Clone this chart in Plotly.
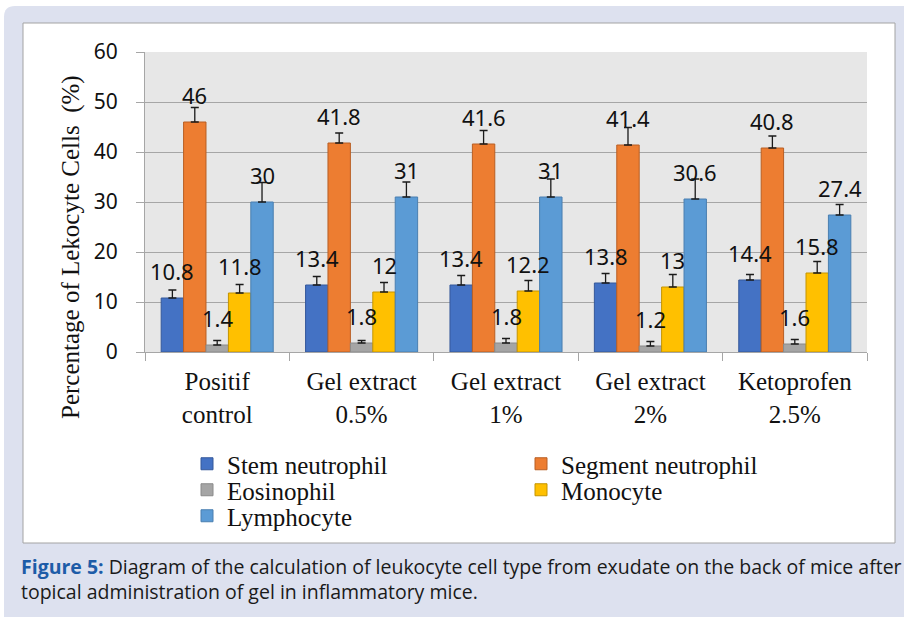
import plotly.graph_objects as go

# ---------------- data ----------------
categories = ["Positif<br>control", "Gel extract<br>0.5%", "Gel extract<br>1%",
              "Gel extract<br>2%", "Ketoprofen<br>2.5%"]
series_names = ["Stem neutrophil", "Segment neutrophil", "Eosinophil", "Monocyte", "Lymphocyte"]

stem_neutrophil = [10.8, 13.4, 13.4, 13.8, 14.4]
segment_neutrophil = [46, 41.8, 41.6, 41.4, 40.8]
eosinophil = [1.4, 1.8, 1.8, 1.2, 1.6]
monocyte = [11.8, 12, 12.2, 13, 15.8]
lymphocyte = [30, 31, 31, 30.6, 27.4]

stem_err = [1.6, 1.7, 1.9, 1.9, 1.1]
segment_err = [2.9, 2.0, 2.7, 3.5, 2.4]
eosinophil_err = [0.9, 0.5, 0.9, 0.9, 0.9]
monocyte_err = [1.7, 1.9, 2.1, 2.5, 2.3]
lymphocyte_err = [3.9, 3.0, 3.6, 4.0, 2.1]

y_ticks = [0, 10, 20, 30, 40, 50, 60]

# ---------------- style ----------------
W, H = 904, 617
ML, MR, MT, MB = 145, 37, 52, 265
PW, PH = W - ML - MR, H - MT - MB
BARGAP = 0.224

colors = ["#4472C4", "#ED7D31", "#A5A5A5", "#FFC000", "#5B9BD5"]
edges = ["#35589a", "#b85f24", "#8a8a8a", "#c49400", "#4a7fb0"]
legend_ids = ["legend", "legend", "legend2", "legend2", "legend3"]
grid = "#a6a6a6"
SERIF = "Liberation Serif, Times New Roman, serif"
SANS = "Noto Sans, Open Sans, sans-serif"

values = [stem_neutrophil, segment_neutrophil, eosinophil, monocyte, lymphocyte]
errors = [stem_err, segment_err, eosinophil_err, monocyte_err, lymphocyte_err]


def px_x(px):
    return (px - ML) / PW


def px_y(py):
    return (H - MB - py) / PH


fig = go.Figure()
for name, vals, errs, c, e, lg in zip(series_names, values, errors, colors, edges, legend_ids):
    fig.add_trace(go.Bar(
        name=name, x=categories, y=vals, legend=lg,
        marker=dict(color=c, line=dict(color=e, width=1)),
        error_y=dict(type="data", array=errs, arrayminus=[0] * len(errs), symmetric=False,
                     color="#1a1a1a", thickness=1.3, width=4),
    ))

# data labels, placed above each bar
bar_w = PW / len(categories) * (1 - BARGAP) / len(series_names)
annotations = []
for i, vals in enumerate(values):
    for cat, v in zip(categories, vals):
        annotations.append(dict(
            x=cat, y=v, xref="x", yref="y", text=f"{v:g}", showarrow=False,
            xshift=(i - (len(series_names) - 1) / 2) * bar_w, yshift=27,
            font=dict(family=SANS, size=22, color="#111111"),
        ))

# y-axis title
annotations.append(dict(
    x=px_x(55), y=px_y(247), xref="paper", yref="paper", showarrow=False,
    text="Percentage of Lekocyte Cells  (%)", textangle=-90,
    font=dict(family=SERIF, size=25, color="#111111"),
))

# caption
annotations.append(dict(
    x=px_x(19), y=px_y(551), xref="paper", yref="paper", showarrow=False,
    xanchor="left", yanchor="top", align="left",
    text="<b><span style='color:#1d5ca8'>Figure 5:</span></b> Diagram of the calculation of leukocyte cell type "
         "from exudate on the back of mice after<br>topical administration of gel in inflammatory mice.",
    font=dict(family="Open Sans, Noto Sans, sans-serif", size=19.5, color="#1a1a1a"),
))

# background panels
x0, x1 = px_x(4), px_x(910)
y0, y1 = px_y(6), px_y(625)
rx, ry = 11 / PW, 11 / PH
lav_path = (f"M {x0},{y1} L {x0},{y0 - ry} Q {x0},{y0} {x0 + rx},{y0} "
            f"L {x1},{y0} L {x1},{y1} Z")
shapes = [
    dict(type="path", xref="paper", yref="paper", path=lav_path,
         fillcolor="#dde1ef", line=dict(width=0), layer="below"),
    dict(type="rect", xref="paper", yref="paper",
         x0=px_x(23), x1=px_x(895), y0=px_y(543), y1=px_y(23),
         fillcolor="white", line=dict(color="#a3a3a3", width=1), layer="below"),
    dict(type="rect", xref="paper", yref="paper", x0=0, x1=1, y0=0, y1=1,
         fillcolor="#e7e7e7", line=dict(width=0), layer="below"),
]

legend_common = dict(
    orientation="h", xanchor="left", yanchor="top", entrywidth=289,
    traceorder="normal", font=dict(family=SERIF, size=25, color="#111111"),
    bgcolor="rgba(0,0,0,0)", itemclick=False, itemdoubleclick=False,
)

fig.update_layout(
    width=W, height=H,
    margin=dict(l=ML, r=MR, t=MT, b=MB, pad=0),
    paper_bgcolor="white", plot_bgcolor="#e7e7e7",
    barmode="group", bargap=BARGAP, bargroupgap=0,
    showlegend=True,
    legend=dict(x=px_x(187), y=px_y(441), **legend_common),
    legend2=dict(x=px_x(187), y=px_y(467), **legend_common),
    legend3=dict(x=px_x(187), y=px_y(493), **legend_common),
    annotations=annotations, shapes=shapes,
)

fig.update_xaxes(
    showgrid=False, tickson="boundaries", ticks="outside", ticklen=8, tickcolor=grid,
    showline=True, linecolor=grid, linewidth=1, ticklabelstandoff=7,
    tickfont=dict(family=SERIF, size=25, color="#111111"), fixedrange=True,
)
fig.update_yaxes(
    range=[0, 60], tickvals=y_ticks, showgrid=True, gridcolor=grid, gridwidth=1,
    ticks="outside", ticklen=8, tickcolor=grid, showline=True, linecolor=grid, linewidth=1,
    zeroline=False, ticklabelstandoff=14,
    tickfont=dict(family=SANS, size=21, color="#111111"), fixedrange=True,
)

fig.write_html("out.html", config={"displayModeBar": False},
               post_script="document.body.style.margin='0px';")
